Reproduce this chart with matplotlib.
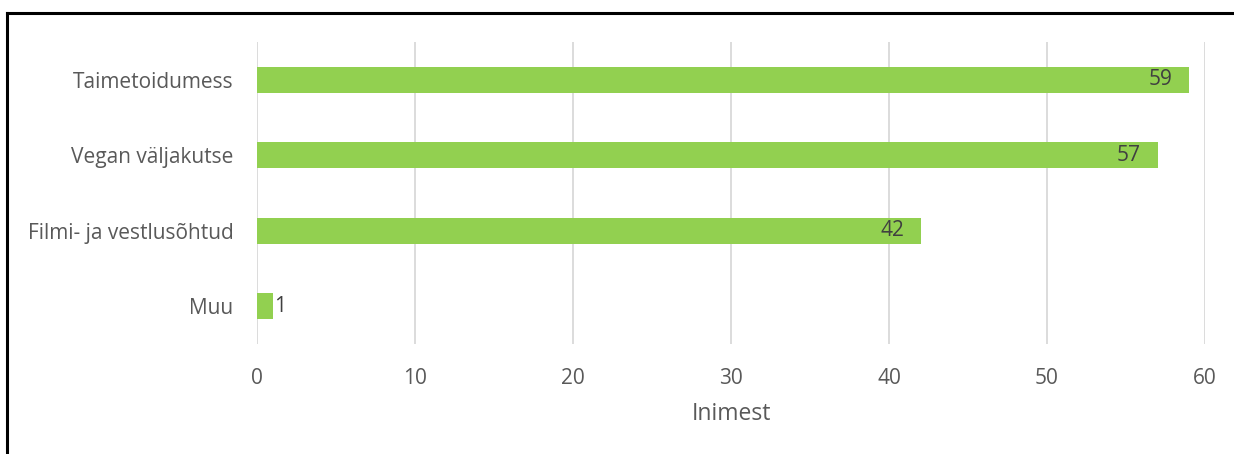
import matplotlib
matplotlib.use("Agg")
import matplotlib.pyplot as plt
from matplotlib.lines import Line2D

plt.rcParams['font.family'] = ['Open Sans', 'DejaVu Sans']

categories = ["Taimetoidumess", "Vegan väljakutse", "Filmi- ja vestlusõhtud", "Muu"]
values = [59, 57, 42, 1]
xticks = [0, 10, 20, 30, 40, 50, 60]

fig = plt.figure(figsize=(12.34, 4.54), dpi=100)
ax = fig.add_axes([0.2083, 0.2423, 0.7682, 0.6652])

ypos = list(range(len(categories)))
ax.barh(ypos, values, height=0.345, color='#92D050', zorder=3)
ax.set_ylim(len(categories) - 0.5, -0.5)
ax.set_xlim(0, 60)
ax.set_yticks(ypos)
ax.set_yticklabels(categories, fontsize=15, color='#595959')
ax.set_xticks(xticks)
ax.set_xticklabels([str(t) for t in xticks], fontsize=15, color='#595959')
ax.tick_params(axis='both', length=0)
ax.tick_params(axis='y', pad=17)
ax.tick_params(axis='x', pad=17)
ax.grid(axis='x', color='#D9D9D9', linewidth=1.3, zorder=0)
for s in ax.spines.values():
    s.set_visible(False)
ax.set_xlabel("Inimest", fontsize=16.5, color='#595959', labelpad=10)

# value labels: inside the bar end, or just outside for short bars
for y, v in zip(ypos, values):
    if v >= 5:
        ax.annotate(str(v), (v, y), xytext=(-12, 0), textcoords='offset points',
                    ha='right', va='center', fontsize=15, color='#404040', zorder=4)
    else:
        ax.annotate(str(v), (v, y), xytext=(1, 0), textcoords='offset points',
                    ha='left', va='center', fontsize=15, color='#404040', zorder=4)

# frame lines, top and left only
fig.add_artist(Line2D([7 / 1234, 1], [1 - 13 / 454, 1 - 13 / 454], color='black', lw=2.2,
                      transform=fig.transFigure))
fig.add_artist(Line2D([7 / 1234, 7 / 1234], [0, 1 - 13 / 454], color='black', lw=2.2,
                      transform=fig.transFigure))

fig.savefig("out.png", dpi=100)
